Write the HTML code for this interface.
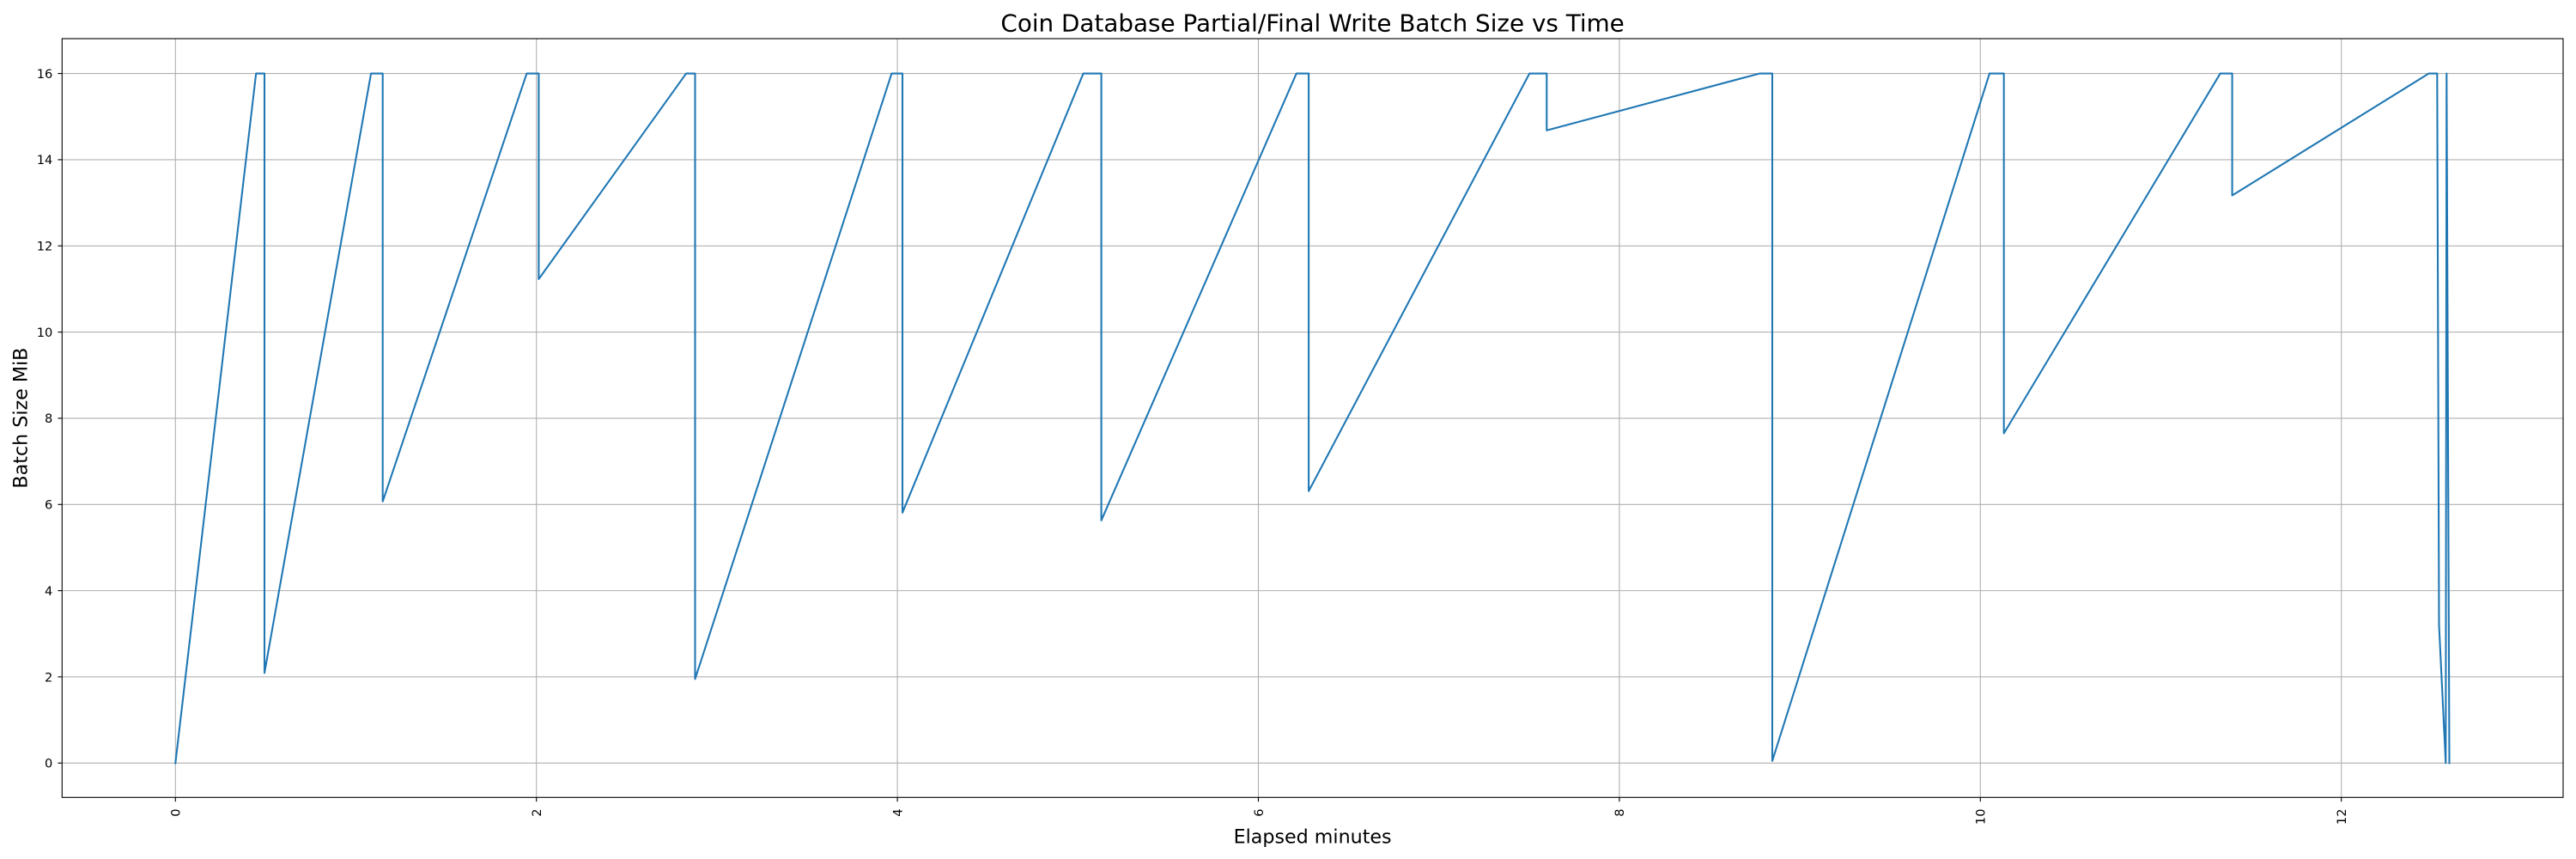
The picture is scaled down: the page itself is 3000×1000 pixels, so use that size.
<!DOCTYPE html>
<html>
<head>
<meta charset="utf-8">
<style>
  html, body { margin: 0; padding: 0; background: #ffffff; }
  svg { display: block; }
  text { font-family: "DejaVu Sans", "Liberation Sans", sans-serif; fill: #000; }
</style>
</head>
<body>
<svg width="3000" height="1000" viewBox="0 0 3000 1000" xmlns="http://www.w3.org/2000/svg">
  <rect x="0" y="0" width="3000" height="1000" fill="#ffffff"/>
  <defs>
    <clipPath id="ax">
      <rect x="72.3" y="45" width="2912.7" height="883.3"/>
    </clipPath>
  </defs>

  <!-- grid -->
  <g stroke="#b0b0b0" stroke-width="1.11" fill="none">
    <line x1="204.3" y1="45" x2="204.3" y2="928.3"/>
    <line x1="624.7" y1="45" x2="624.7" y2="928.3"/>
    <line x1="1045.1" y1="45" x2="1045.1" y2="928.3"/>
    <line x1="1465.5" y1="45" x2="1465.5" y2="928.3"/>
    <line x1="1885.9" y1="45" x2="1885.9" y2="928.3"/>
    <line x1="2306.3" y1="45" x2="2306.3" y2="928.3"/>
    <line x1="2726.7" y1="45" x2="2726.7" y2="928.3"/>

    <line x1="72.3" y1="888.3" x2="2985" y2="888.3"/>
    <line x1="72.3" y1="787.96" x2="2985" y2="787.96"/>
    <line x1="72.3" y1="687.62" x2="2985" y2="687.62"/>
    <line x1="72.3" y1="587.28" x2="2985" y2="587.28"/>
    <line x1="72.3" y1="486.94" x2="2985" y2="486.94"/>
    <line x1="72.3" y1="386.6" x2="2985" y2="386.6"/>
    <line x1="72.3" y1="286.26" x2="2985" y2="286.26"/>
    <line x1="72.3" y1="185.92" x2="2985" y2="185.92"/>
    <line x1="72.3" y1="85.58" x2="2985" y2="85.58"/>
  </g>

  <!-- data -->
  <g clip-path="url(#ax)">
    <polyline fill="none" stroke="#1f77b4" stroke-width="2.08" stroke-linejoin="round" stroke-linecap="square"
      points="204.3,888.3 298.2,85.58 308,85.58 308,783.45 432.1,85.58 445.7,85.58 445.7,583.77 613.4,85.58 627.4,85.58 627.4,324.89 799.1,85.58 809.5,85.58 809.5,790.47 1038.4,85.58 1051,85.58 1051,596.81 1261.6,85.58 1282.6,85.58 1282.6,605.84 1509.8,85.58 1524.1,85.58 1524.1,571.73 1781.2,85.58 1801.3,85.58 1801.3,151.8 2049.1,85.58 2064,85.58 2064,885.79 2317,85.58 2333.7,85.58 2333.7,504.5 2585.7,85.58 2599.6,85.58 2599.6,227.54 2828.5,85.58 2838.3,85.58 2840.5,727.76 2848.3,888.3 2849.3,85.58 2852.5,888.3"/>
  </g>

  <!-- axes frame -->
  <rect x="72.3" y="45" width="2912.7" height="883.3" fill="none" stroke="#000" stroke-width="1.11"/>

  <!-- ticks -->
  <g stroke="#000" stroke-width="1.11">
    <line x1="204.3" y1="928.3" x2="204.3" y2="933.2"/>
    <line x1="624.7" y1="928.3" x2="624.7" y2="933.2"/>
    <line x1="1045.1" y1="928.3" x2="1045.1" y2="933.2"/>
    <line x1="1465.5" y1="928.3" x2="1465.5" y2="933.2"/>
    <line x1="1885.9" y1="928.3" x2="1885.9" y2="933.2"/>
    <line x1="2306.3" y1="928.3" x2="2306.3" y2="933.2"/>
    <line x1="2726.7" y1="928.3" x2="2726.7" y2="933.2"/>

    <line x1="67.4" y1="888.3" x2="72.3" y2="888.3"/>
    <line x1="67.4" y1="787.96" x2="72.3" y2="787.96"/>
    <line x1="67.4" y1="687.62" x2="72.3" y2="687.62"/>
    <line x1="67.4" y1="587.28" x2="72.3" y2="587.28"/>
    <line x1="67.4" y1="486.94" x2="72.3" y2="486.94"/>
    <line x1="67.4" y1="386.6" x2="72.3" y2="386.6"/>
    <line x1="67.4" y1="286.26" x2="72.3" y2="286.26"/>
    <line x1="67.4" y1="185.92" x2="72.3" y2="185.92"/>
    <line x1="67.4" y1="85.58" x2="72.3" y2="85.58"/>
  </g>

  <!-- y tick labels -->
  <g font-size="14.6" text-anchor="end">
    <text x="61.3" y="893.6">0</text>
    <text x="61.3" y="793.3">2</text>
    <text x="61.3" y="692.9">4</text>
    <text x="61.3" y="592.6">6</text>
    <text x="61.3" y="492.2">8</text>
    <text x="61.3" y="391.9">10</text>
    <text x="61.3" y="291.6">12</text>
    <text x="61.3" y="191.2">14</text>
    <text x="61.3" y="90.9">16</text>
  </g>

  <!-- x tick labels (rotated) -->
  <g font-size="14.6" text-anchor="end">
    <text transform="translate(209.6,941.5) rotate(-90)">0</text>
    <text transform="translate(630.0,941.5) rotate(-90)">2</text>
    <text transform="translate(1050.4,941.5) rotate(-90)">4</text>
    <text transform="translate(1470.8,941.5) rotate(-90)">6</text>
    <text transform="translate(1891.2,941.5) rotate(-90)">8</text>
    <text transform="translate(2311.6,941.5) rotate(-90)">10</text>
    <text transform="translate(2732.0,941.5) rotate(-90)">12</text>
  </g>

  <!-- axis labels -->
  <text x="1528.6" y="981.7" font-size="22.2" text-anchor="middle">Elapsed minutes</text>
  <text transform="translate(31.7,486.6) rotate(-90)" font-size="22.2" text-anchor="middle">Batch Size MiB</text>

  <!-- title -->
  <text x="1528.6" y="36.7" font-size="27.8" text-anchor="middle">Coin Database Partial/Final Write Batch Size vs Time</text>
</svg>
</body>
</html>
